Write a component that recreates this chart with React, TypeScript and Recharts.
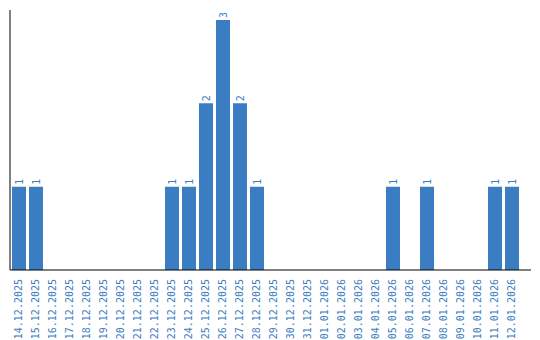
import { Bar, BarChart, LabelList, XAxis, YAxis } from "recharts";

const days = [
  "14.12.2025", "15.12.2025", "16.12.2025", "17.12.2025", "18.12.2025",
  "19.12.2025", "20.12.2025", "21.12.2025", "22.12.2025", "23.12.2025",
  "24.12.2025", "25.12.2025", "26.12.2025", "27.12.2025", "28.12.2025",
  "29.12.2025", "30.12.2025", "31.12.2025", "01.01.2026", "02.01.2026",
  "03.01.2026", "04.01.2026", "05.01.2026", "06.01.2026", "07.01.2026",
  "08.01.2026", "09.01.2026", "10.01.2026", "11.01.2026", "12.01.2026",
];

const counts = [
  1, 1, 0, 0, 0, 0, 0, 0, 0, 1,
  1, 2, 3, 2, 1, 0, 0, 0, 0, 0,
  0, 0, 1, 0, 1, 0, 0, 0, 1, 1,
];

const BLUE = "#3b7dc2";
const FONT = "'DejaVu Sans Mono', monospace";

const data = days.map((day, i) => ({ day, count: counts[i] }));

function DateTick({ x, y, payload }: { x?: number; y?: number; payload?: { value: string } }) {
  return (
    <text
      x={0}
      y={0}
      transform={`translate(${x}, ${(y ?? 0) + 1}) rotate(-90)`}
      textAnchor="end"
      dominantBaseline="central"
      fontSize={10}
      fontFamily={FONT}
      fill={BLUE}
    >
      {payload?.value}
    </text>
  );
}

function CountLabel(props: any) {
  const { x, y, width, value } = props;
  if (!value) return null;
  const cx = x + width / 2;
  return (
    <text
      x={0}
      y={0}
      transform={`translate(${cx}, ${y - 2}) rotate(-90)`}
      textAnchor="start"
      dominantBaseline="central"
      fontSize={10}
      fontFamily={FONT}
      fill={BLUE}
    >
      {value}
    </text>
  );
}

export default function App() {
  return (
    <div style={{ width: 540, height: 340, background: "#fff" }}>
      <style>{`body { margin: 0; }`}</style>
      <BarChart
        width={540}
        height={340}
        data={data}
        margin={{ top: 10, right: 9, left: 9, bottom: 0 }}
        barSize={14}
      >
        <XAxis
          dataKey="day"
          interval={0}
          height={70}
          tickLine={false}
          axisLine={{ stroke: "#000" }}
          padding={{ left: 0, right: 11 }}
          tick={<DateTick />}
        />
        <YAxis
          width={1}
          domain={[0, 3]}
          padding={{ top: 10 }}
          tick={false}
          tickLine={false}
          axisLine={{ stroke: "#000" }}
        />
        <Bar dataKey="count" fill={BLUE} isAnimationActive={false}>
          <LabelList dataKey="count" content={<CountLabel />} />
        </Bar>
      </BarChart>
    </div>
  );
}
